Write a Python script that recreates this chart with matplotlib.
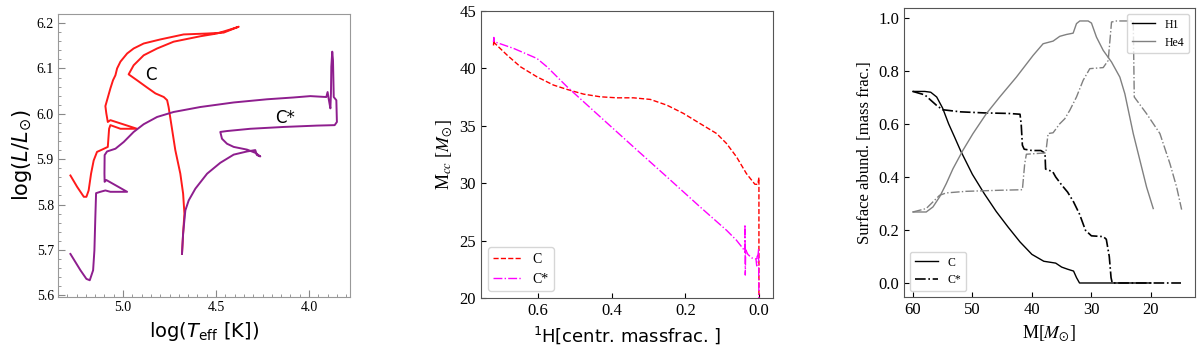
import numpy as np
import matplotlib
matplotlib.use("Agg")
import matplotlib.pyplot as plt

plt.rcParams['font.family'] = ['Liberation Serif', 'DejaVu Serif']
plt.rcParams['mathtext.fontset'] = 'stix'

# --- HR diagram tracks (log Teff, log L) ---
logT_C = [4.683, 4.677, 4.670, 4.677, 4.692, 4.719, 4.755, 4.763, 4.781, 4.826, 4.871,
          4.925, 4.970, 4.943, 4.889, 4.817, 4.728, 4.584, 4.495, 4.423, 4.378, 4.459,
          4.548, 4.674, 4.799, 4.889, 4.943, 4.978, 5.014, 5.032, 5.041, 5.054, 5.068,
          5.086, 5.095, 5.090, 5.082, 5.068, 4.925, 5.014, 5.068, 5.075, 5.082, 5.113,
          5.140, 5.158, 5.172, 5.185, 5.197, 5.211, 5.247, 5.283]
logL_C = [5.691, 5.736, 5.780, 5.824, 5.868, 5.920, 6.015, 6.030, 6.037, 6.045, 6.058,
          6.074, 6.087, 6.107, 6.129, 6.144, 6.159, 6.171, 6.177, 6.186, 6.192, 6.179,
          6.177, 6.175, 6.164, 6.155, 6.144, 6.133, 6.115, 6.100, 6.085, 6.074, 6.056,
          6.030, 6.017, 6.001, 5.982, 5.986, 5.967, 5.967, 5.975, 5.967, 5.927, 5.921,
          5.916, 5.897, 5.868, 5.831, 5.817, 5.817, 5.839, 5.864]

logT_Cs = [4.683, 4.677, 4.665, 4.647, 4.611, 4.548, 4.477, 4.405, 4.333, 4.289, 4.280,
           4.262, 4.289, 4.333, 4.405, 4.441, 4.468, 4.477, 4.441, 4.315, 4.136, 3.957,
           3.862, 3.850, 3.853, 3.867, 3.871, 3.875, 3.880, 3.882, 3.885, 3.893, 3.900,
           3.907, 3.993, 4.083, 4.226, 4.405, 4.584, 4.728, 4.817, 4.889, 4.943, 4.996,
           5.041, 5.086, 5.099, 5.100, 5.099, 5.090, 4.978, 5.068, 5.095, 5.122, 5.145,
           5.149, 5.154, 5.161, 5.179, 5.197, 5.229, 5.283]
logL_Cs = [5.691, 5.736, 5.787, 5.809, 5.835, 5.868, 5.892, 5.910, 5.917, 5.920, 5.909,
           5.906, 5.914, 5.921, 5.927, 5.934, 5.945, 5.960, 5.962, 5.967, 5.971, 5.974,
           5.975, 5.982, 6.030, 6.037, 6.118, 6.137, 6.104, 6.045, 6.012, 6.030, 6.048,
           6.037, 6.039, 6.036, 6.032, 6.025, 6.015, 6.004, 5.993, 5.977, 5.960, 5.938,
           5.923, 5.917, 5.909, 5.868, 5.850, 5.854, 5.828, 5.828, 5.831, 5.828, 5.825,
           5.772, 5.699, 5.655, 5.633, 5.636, 5.655, 5.691]

# --- convective core mass vs central H ---
xh_C = [0.721, 0.720, 0.719, 0.684, 0.648, 0.603, 0.558, 0.521, 0.476, 0.431, 0.386,
        0.341, 0.295, 0.250, 0.205, 0.160, 0.115, 0.088, 0.061, 0.034, 0.011, 0.003,
        0.000, 0.000]
mcc_C = [42.0, 42.5, 42.24, 41.16, 40.15, 39.27, 38.55, 38.17, 37.76, 37.53, 37.44,
         37.44, 37.30, 36.80, 36.08, 35.20, 34.33, 33.46, 32.30, 30.84, 29.91, 29.90,
         30.50, 20.0]
xh_Cs = [0.721, 0.720, 0.719, 0.666, 0.603, 0.576, 0.521, 0.431, 0.341, 0.250, 0.160,
         0.088, 0.061, 0.043, 0.038, 0.038, 0.037, 0.036, 0.030, 0.020, 0.008, 0.006,
         0.005, 0.002, 0.001, 0.000]
mcc_Cs = [42.3, 42.7, 42.33, 41.74, 40.87, 40.15, 38.40, 35.78, 33.17, 30.55, 27.94,
          25.90, 25.03, 24.30, 24.00, 26.40, 22.00, 24.20, 23.80, 23.50, 23.40, 22.80,
          23.60, 23.80, 24.30, 19.5]

# --- surface abundances vs mass ---
m_H_C = [60, 58, 57, 56, 55, 54, 53, 52, 51, 50, 48, 46, 44, 42, 40, 38, 36, 35, 34,
         33, 32.5, 32, 26, 20]
h_C = [0.723, 0.723, 0.720, 0.702, 0.660, 0.601, 0.551, 0.500, 0.455, 0.410, 0.337,
       0.270, 0.211, 0.155, 0.108, 0.082, 0.075, 0.060, 0.052, 0.045, 0.020, 0.0, 0.0, 0.0]
m_H_Cs = [60, 58, 56, 55, 52, 48, 44, 42, 41.8, 41.6, 41.3, 40, 38.5, 37.8, 37.7, 36.5,
          36, 35, 34, 33, 32, 31, 30, 28, 27.5, 27, 26.7, 26.5, 20, 14.95]
h_Cs = [0.723, 0.710, 0.670, 0.654, 0.646, 0.642, 0.640, 0.637, 0.600, 0.520, 0.505,
        0.500, 0.500, 0.490, 0.430, 0.420, 0.400, 0.370, 0.343, 0.306, 0.260, 0.199,
        0.178, 0.175, 0.165, 0.100, 0.020, 0.0, 0.0, 0.0]
m_He_C = [60, 57.76, 56.63, 55.51, 54.39, 53.27, 51.59, 49.90, 47.66, 45.41, 42.61,
          39.80, 38.12, 36.44, 35.32, 34.20, 33.07, 32.51, 31.95, 30.55, 29.99, 29.15,
          28.02, 26.62, 25.22, 24.38, 22.97, 21.85, 20.73, 19.61]
he_C = [0.268, 0.268, 0.287, 0.325, 0.375, 0.431, 0.501, 0.564, 0.639, 0.702, 0.777,
        0.859, 0.903, 0.913, 0.931, 0.938, 0.943, 0.979, 0.989, 0.989, 0.981, 0.928,
        0.878, 0.834, 0.777, 0.714, 0.564, 0.463, 0.362, 0.281]
m_He_Cs = [60, 57.76, 55.51, 54.39, 51.02, 45.41, 41.60, 41.21, 40.93, 37.67, 37.28,
           36.44, 35.32, 34.47, 33.63, 32.51, 31.39, 30.27, 28.02, 27.18, 26.62, 25.78,
           22.97, 22.80, 20.73, 18.49, 16.80, 15.68, 14.84]
he_Cs = [0.268, 0.281, 0.331, 0.340, 0.346, 0.350, 0.352, 0.450, 0.486, 0.491, 0.564,
         0.567, 0.601, 0.620, 0.652, 0.702, 0.765, 0.809, 0.813, 0.840, 0.985, 0.989,
         0.989, 0.702, 0.639, 0.564, 0.450, 0.362, 0.277]

fig = plt.figure(figsize=(12, 3.47), dpi=100)

# ---------------- panel 1: HRD ----------------
ax1 = fig.add_axes([0.0483, 0.144, 0.2433, 0.8156])
ax1.plot(logT_C, logL_C, color='#ff1a1a', lw=1.4)
ax1.plot(logT_Cs, logL_Cs, color='#8e1e8e', lw=1.4)
ax1.set_xlim(5.35, 3.78)
ax1.set_ylim(5.596, 6.22)
ax1.set_xticks([5.0, 4.5, 4.0])
ax1.set_xticks(np.arange(3.8, 5.35, 0.05), minor=True)
ax1.set_yticks([5.6, 5.7, 5.8, 5.9, 6.0, 6.1, 6.2])
ax1.set_yticks(np.arange(5.6, 6.21, 0.02), minor=True)
ax1.tick_params(which='both', direction='in', color='#888888', labelsize=10, pad=3)
ax1.tick_params(which='major', length=5)
ax1.tick_params(which='minor', length=2.5)
for s in ax1.spines.values():
    s.set_color('#999999')
ax1.set_ylabel(r'log($L/L_{\odot}$)', fontsize=15, family='DejaVu Sans',
               math_fontfamily='dejavusans', labelpad=2)
ax1.set_xlabel(r'log($T_{\rm eff}$ [K])', fontsize=14, family='DejaVu Sans',
               math_fontfamily='dejavusans', labelpad=4)
ax1.text(4.853, 6.085, 'C', fontsize=12, family='DejaVu Sans', va='center', ha='center')
ax1.text(4.127, 5.990, 'C*', fontsize=12, family='DejaVu Sans', va='center', ha='center')

# ---------------- panel 2: Mcc ----------------
ax2 = fig.add_axes([0.4008, 0.1412, 0.2433, 0.827])
ax2.plot(xh_C, mcc_C, color='red', ls='--', lw=1.0, label='C')
ax2.plot(xh_Cs, mcc_Cs, color='magenta', ls='-.', lw=1.0, label='C*')
ax2.set_xlim(0.755, -0.038)
ax2.set_ylim(20, 45)
ax2.set_xticks([0.6, 0.4, 0.2, 0.0])
ax2.set_yticks([20, 25, 30, 35, 40, 45])
ax2.tick_params(direction='in', labelsize=12)
for s in ax2.spines.values():
    s.set_color('#555555')
ax2.set_ylabel(r'M$_{cc}$ [$M_{\odot}$]', fontsize=13)
ax2.set_xlabel(r'$^{1}$H[centr. massfrac. ]', fontsize=13, family='DejaVu Sans',
               math_fontfamily='dejavusans')
ax2.legend(loc='lower left', fontsize=10)

# ---------------- panel 3: surface abundances ----------------
ax3 = fig.add_axes([0.7533, 0.144, 0.2425, 0.833])
h1, = ax3.plot(m_H_C, h_C, color='black', ls='-', lw=1.0)
h2, = ax3.plot(m_H_Cs, h_Cs, color='black', ls='-.', lw=1.2)
g1, = ax3.plot(m_He_C, he_C, color='gray', ls='-', lw=1.0)
g2, = ax3.plot(m_He_Cs, he_Cs, color='gray', ls='-.', lw=1.0)
ax3.set_xlim(61.5, 12.6)
ax3.set_ylim(-0.053, 1.038)
ax3.set_xticks([60, 50, 40, 30, 20])
ax3.set_yticks([0.0, 0.2, 0.4, 0.6, 0.8, 1.0])
ax3.tick_params(direction='in', labelsize=12)
for s in ax3.spines.values():
    s.set_color('#555555')
ax3.set_ylabel('Surface abund. [mass frac.]', fontsize=12)
ax3.set_xlabel(r'M[$M_{\odot}$]', fontsize=13)
leg1 = ax3.legend([h1, g1], ['H1', 'He4'], loc='upper right', fontsize=8.5)
ax3.add_artist(leg1)
ax3.legend([h1, h2], ['C', 'C*'], loc='lower left', fontsize=8.5)

fig.savefig('out.png', dpi=100)
